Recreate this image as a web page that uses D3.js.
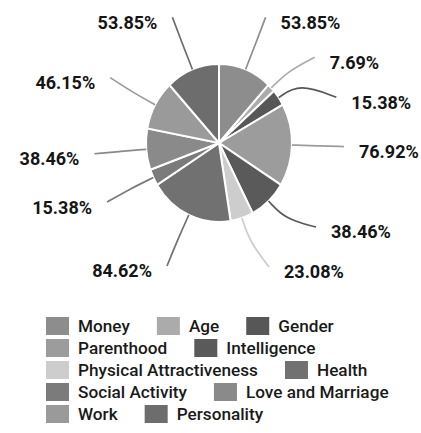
<!DOCTYPE html>
<html><head><meta charset="utf-8">
<script src="https://cdn.jsdelivr.net/npm/d3@7"></script>
<style>
html,body{margin:0;padding:0;background:#fff;}
svg{display:block;}
</style></head>
<body>
<svg id="chart" width="421" height="433"></svg>
<script>
const categories = ["Money","Age","Gender","Parenthood","Intelligence","Physical Attractiveness","Health","Social Activity","Love and Marriage","Work","Personality"];
const values = [53.85,7.69,15.38,76.92,38.46,23.08,84.62,15.38,38.46,46.15,53.85];
const colors = ["#8d8d8d","#ababab","#575757","#9c9c9c","#5a5a5a","#cdcdcd","#717171","#7b7b7b","#8a8a8a","#9a9a9a","#6d6d6d"];

const W = 421, H = 433;
const svg = d3.select("#chart");
const cx = 219, cy = 143, rx = 73, ry = 79;

const data = categories.map((c,i)=>({cat:c, value:values[i], color:colors[i], i}));
const pie = d3.pie().value(d=>d.value).sort(null);
const arcs = pie(data);
const arc = d3.arc().innerRadius(0).outerRadius(rx);

const gPie = svg.append("g").attr("transform",`translate(${cx},${cy}) scale(1,${ry/rx})`);
gPie.selectAll("path").data(arcs).join("path")
  .attr("d",arc)
  .attr("fill",d=>d.data.color)
  .attr("stroke","#fff")
  .attr("stroke-width",2)
  .attr("vector-effect","non-scaling-stroke");

// label layout
const labelCy = 148, labelRy = 135, ellRx = 140, ellRy = 140, gap = 40, minY = 20, maxY = 272;
const items = arcs.map(a=>{
  const m = (a.startAngle + a.endAngle)/2;
  return {a, m, side: Math.sin(m) >= 0 ? 1 : -1, y0: labelCy - labelRy*Math.cos(m)};
});
[1,-1].forEach(side=>{
  const s = items.filter(d=>d.side===side).sort((p,q)=>p.y0-q.y0);
  let prev = -Infinity;
  s.forEach(d=>{ d.y = Math.max(d.y0, prev+gap, minY); prev = d.y; });
  let next = Infinity;
  for(let k=s.length-1;k>=0;k--){ s[k].y = Math.min(s[k].y, next-gap, maxY); next = s[k].y; }
});
items.forEach(d=>{
  const t = Math.max(0, 1 - Math.pow((d.y-labelCy)/ellRy,2));
  d.x = cx + d.side*ellRx*Math.sqrt(t);
});

const line = d3.line().curve(d3.curveBasis);
svg.append("g").selectAll("path").data(items).join("path")
  .attr("fill","none")
  .attr("stroke",d=>d.a.data.color)
  .attr("stroke-width",1.7)
  .attr("d",d=>{
    const s=[cx+rx*Math.sin(d.m), cy-ry*Math.cos(d.m)];
    const c=[cx+(rx+25)*Math.sin(d.m), cy-(ry+25)*Math.cos(d.m)];
    const e=[d.x - d.side*15, d.y-5];
    return line([s,c,e]);
  });

svg.append("g").selectAll("text").data(items).join("text")
  .attr("x",d=>d.x).attr("y",d=>d.y).attr("dy","0.36em")
  .attr("text-anchor",d=>d.side>0?"start":"end")
  .attr("font-family","Roboto, sans-serif")
  .attr("font-weight",700)
  .attr("font-size",18)
  .attr("fill","#151515")
  .text(d=>d.a.data.value.toFixed(2)+"%");

// legend
const lgX = 46, lgY = 317, sw = 23, sh = 18, rowH = 22, pad = 9, itemGap = 27, maxX = 405;
const lg = svg.append("g");
let x = lgX, row = 0;
data.forEach(d=>{
  const t = lg.append("text")
    .attr("font-family","Roboto, sans-serif")
    .attr("font-weight",500)
    .attr("font-size",17.2)
    .attr("fill","#1a1a1a")
    .text(d.cat);
  const w = t.node().getComputedTextLength();
  if (x > lgX && x + sw + pad + w > maxX){ row++; x = lgX; }
  const y = lgY + row*rowH;
  lg.append("rect").attr("x",x).attr("y",y).attr("width",sw).attr("height",sh).attr("fill",d.color);
  t.attr("x",x+sw+pad).attr("y",y+sh/2).attr("dy","0.36em");
  x += sw + pad + w + itemGap;
});
</script>
</body></html>
